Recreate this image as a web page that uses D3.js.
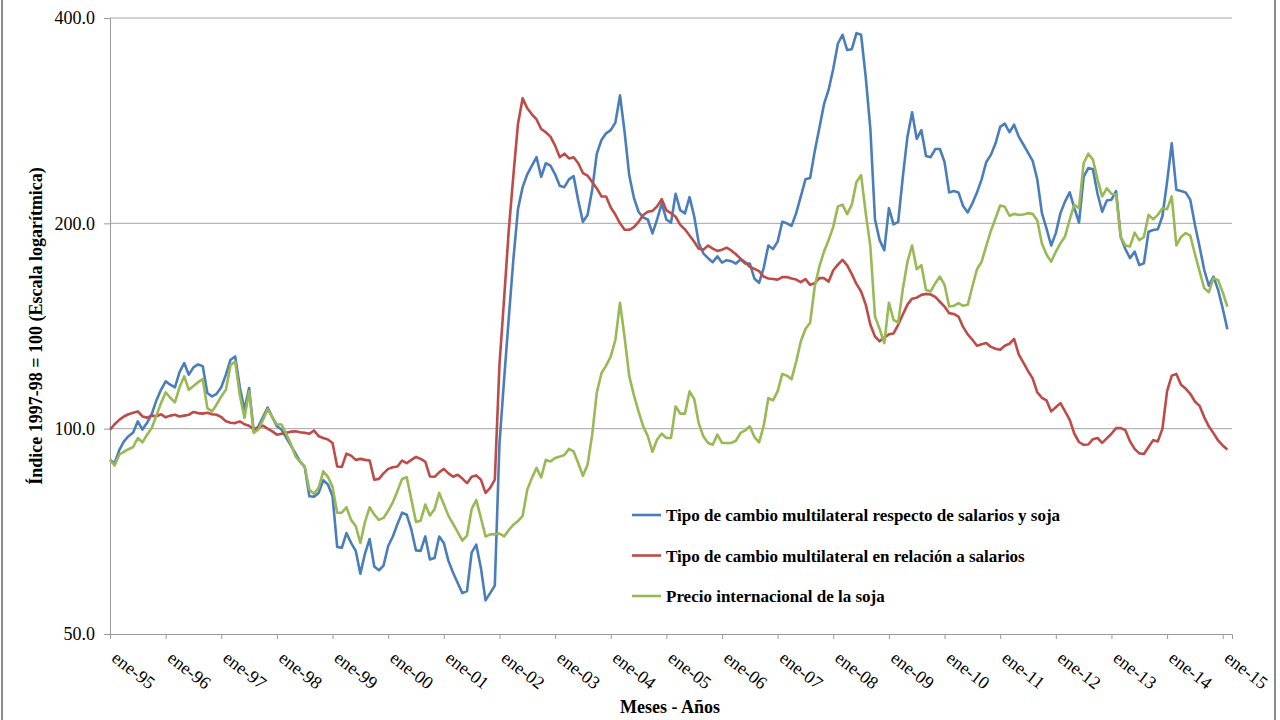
<!DOCTYPE html>
<html>
<head>
<meta charset="utf-8">
<script src="https://cdn.jsdelivr.net/npm/d3@7"></script>
<style>
  body { margin: 0; background: #fff; }
  svg { display: block; }
  text { font-family: "Liberation Serif", "Times New Roman", serif; fill: #000; }
</style>
</head>
<body>
<div id="chart"></div>
<script>
// monthly values, ene-95 .. feb-15 (index 1997-98 = 100)
const tcmSalariosSoja = [
  90, 89, 93, 95.8, 97.5, 98.7, 102.5, 99.7, 102, 105, 110, 114,
  117.3, 116, 115, 121, 124.8, 120, 123, 124.2, 123.5, 112.8, 111.5, 112.5,
  115, 120, 126.2, 127.6, 115, 106.6, 114.7, 99.1, 100.8, 104, 107.4, 104,
  100.8, 99.7, 97, 94.5, 92, 89.5, 87.9, 79.6, 79.5, 80.5, 84, 82.8,
  79.6, 67.1, 66.9, 70.3, 68, 66.2, 61.3, 65.6, 68.9, 62.8, 62, 63,
  67.3, 69.5, 72.5, 75.3, 74.8, 71.1, 66.3, 66.2, 69.5, 64.3, 64.6, 69.5,
  68, 64, 61.5, 59.4, 57.4, 57.8, 65.8, 67.6, 62.5, 56, 57.4, 58.9,
  95, 118, 145, 177, 210, 226, 236, 243, 250, 234, 245, 243,
  236, 227, 226, 232, 234.5, 216, 201, 205.7, 224, 253, 265, 271,
  274, 281, 308, 272, 235, 218, 208, 204, 202.6, 193.3, 202.6, 214,
  202.6, 200.4, 221, 209, 206.8, 218.5, 204.8, 187, 180.6, 177.8, 175.4, 178.9,
  175.2, 176.6, 176, 174.6, 177, 174.6, 174.6, 165.9, 163.6, 172.1, 185.6, 183.4,
  188, 201, 200, 198.3, 207, 219, 232, 233, 255, 276, 299, 314,
  337, 367, 378, 359, 360, 380, 378, 328, 275, 202.6, 189, 182.6,
  210.5, 199.3, 201, 234, 268, 291, 266, 274, 251, 250, 257, 257,
  246, 222, 223, 222, 212, 207.5, 214, 222, 232, 246, 252, 262,
  277, 280, 272, 279, 268, 261, 254, 247, 232, 207, 196.5, 185.6,
  193.5, 207, 215.4, 222, 210.5, 200.5, 234, 241, 240, 221, 208, 216,
  216.6, 223, 191, 183.4, 177.8, 181.8, 173.7, 174.8, 194.4, 195.5, 196, 205,
  230, 262, 224, 223, 222, 216.6, 199, 185, 171, 162, 167.1, 159.8,
  150, 139.9
];
const tcmSalarios = [
  99.7, 101.5, 103, 104.2, 105, 105.5, 106, 104.2, 103.8, 104.5, 104.3, 105,
  103.9, 104.5, 104.8, 104.2, 104.5, 104.8, 105.8, 105.4, 105.2, 105.5, 105, 104.8,
  104, 102.5, 102, 101.9, 102.5, 101.5, 101, 99.7, 100.4, 101, 100, 99.1,
  98, 98.3, 98.6, 99, 99.1, 98.8, 98.6, 98.3, 99.4, 97.5, 96.9, 96.4,
  95.3, 88, 87.9, 91.9, 91.3, 90, 90.3, 90, 89.8, 84.2, 84.4, 86,
  87.3, 87.8, 88, 89.8, 89, 90, 90.9, 90.3, 89.5, 85.1, 85, 86.3,
  87.3, 86, 85, 85.6, 84.5, 83.2, 85, 85.4, 84.2, 80.5, 81.9, 84.2,
  124, 155, 195, 235, 280, 305, 295, 289, 284, 275, 272, 268,
  260, 250, 253, 249, 250, 245, 237, 235, 230, 225, 219, 219,
  211, 206, 200, 195.7, 195.7, 197.5, 201, 205.7, 208, 208.6, 211.8, 217,
  209, 207, 204.5, 199, 196, 192, 188, 183.6, 183, 185.6, 183.6, 182.2,
  183, 184.2, 182.5, 180.2, 177.5, 175.4, 172.7, 171.5, 170.2, 167.1, 166, 165.7,
  165.4, 166.8, 166.8, 166, 165.4, 164, 165.7, 162.5, 163.4, 166.2, 166.2, 164.3,
  170.7, 174, 176.8, 173.5, 168.5, 163, 158.9, 152, 142, 136.5, 134.3, 136,
  137.5, 137.9, 142, 147, 152, 155.1, 155.6, 157.1, 157.6, 157.3, 156, 153.5,
  151, 147.7, 147.3, 146, 141, 137.5, 135, 132.3, 133, 133.5, 131.8, 131,
  130.5, 132.3, 133.2, 135.4, 128.5, 125, 121.5, 118.5, 113, 111, 110, 106,
  107.5, 109, 106, 103, 98.3, 95.6, 94.7, 94.8, 96.5, 96.9, 95.3, 96.8,
  98.3, 100.2, 100.2, 99.5, 95.8, 93.4, 92, 91.8, 94, 96.2, 95.8, 100,
  113.5, 119.6, 120.3, 116, 114.5, 112.5, 109.6, 108, 104, 100.8, 98.5, 96.1,
  94.5, 93.2
];
const precioSoja = [
  90, 88.3, 91.6, 92.5, 93.3, 94, 96.9, 95.5, 98, 100.2, 104.5, 109,
  113, 111, 109.3, 115, 119.3, 114, 115.5, 117, 118.2, 107.2, 106, 108.5,
  111.5, 114, 124, 125.4, 112, 103.7, 113.4, 98.6, 99.7, 103, 106.8, 104,
  101.4, 101.4, 98.3, 95, 91.1, 89.5, 88, 81.4, 80.3, 81.9, 86.6, 85,
  82.1, 75.3, 75.3, 76.7, 73.5, 72, 68, 73, 76.7, 74.8, 73.5, 74,
  75.8, 78, 81, 84.4, 84.9, 78.7, 73, 73.3, 77.4, 74.6, 76.2, 80.5,
  77.5, 74.5, 72.5, 70.5, 68.5, 69.7, 76.2, 78.6, 74, 69.5, 70, 70,
  70.2, 69.5, 71, 72.3, 73.2, 74.5, 81.4, 84.7, 87.6, 84.8, 90, 89.5,
  90.6, 91, 91.5, 93.4, 92.6, 89, 85.3, 88.5, 98, 113, 120.6, 123.7,
  127.6, 134.9, 153, 136, 119.3, 112, 106, 100.8, 97.5, 92.5, 96.4, 98.3,
  96.9, 96.9, 107.8, 105.2, 105.2, 113.4, 110.5, 101.7, 97.4, 95.3, 94.7, 98,
  95.3, 95.3, 95.3, 96, 98.6, 99.4, 100.8, 97.2, 95.5, 101, 110.9, 110,
  113.4, 120.3, 119.6, 118.2, 125.4, 134.3, 140, 143, 161.6, 172.9, 181.8, 189,
  197.8, 211.8, 213, 206.3, 213, 230, 235.3, 207, 185, 146, 140, 133.5,
  153, 144.4, 143, 160.2, 175.7, 185.6, 171.3, 173.7, 159.8, 158.9, 163.4, 167.1,
  162.5, 151, 151.4, 152.8, 151.4, 151.9, 161.6, 171.3, 175.7, 185.4, 195.1, 203.5,
  212.4, 211.5, 205.2, 206.5, 205.8, 206, 207, 206.5, 201.9, 186.9, 180, 175.7,
  181.8, 186.9, 191.5, 202.6, 213, 210.5, 245, 253, 248, 232, 219, 225,
  221, 220.5, 191, 185.6, 185, 193.8, 189, 191, 205.8, 202.8, 205.8, 210.5,
  209.8, 219, 185.6, 191, 193.5, 191.8, 180.3, 170.2, 160.7, 158.5, 166.2, 165.1,
  158.5, 151
];
const yearLabels = ["ene-95","ene-96","ene-97","ene-98","ene-99","ene-00","ene-01",
  "ene-02","ene-03","ene-04","ene-05","ene-06","ene-07","ene-08","ene-09","ene-10",
  "ene-11","ene-12","ene-13","ene-14","ene-15"];
const yTicks = [50, 100, 200, 400];
const seriesNames = [
  "Tipo de cambio multilateral respecto de salarios y soja",
  "Tipo de cambio multilateral en relación a salarios",
  "Precio internacional de la soja"
];
const seriesColors = ["#4a7ebb", "#be4b48", "#98b954"];

const width = 1280, height = 720;
const svg = d3.select("#chart").append("svg")
  .attr("width", width).attr("height", height);

svg.append("rect").attr("width", width).attr("height", height).attr("fill", "#fff");
// outer frame of the chart object
svg.append("line").attr("x1", 2).attr("x2", 2).attr("y1", 0).attr("y2", height)
  .attr("stroke", "#8c8c8c").attr("stroke-width", 2);
svg.append("line").attr("x1", 1275).attr("x2", 1275).attr("y1", 0).attr("y2", height)
  .attr("stroke", "#8c8c8c").attr("stroke-width", 2);

const x = d3.scaleLinear().domain([0, 242]).range([110, 1232]);
const y = d3.scaleLog().domain([50, 400]).range([634, 18]);

// gridlines
svg.append("g").selectAll("line")
  .data(yTicks.slice(1)).enter().append("line")
  .attr("x1", 110).attr("x2", 1232)
  .attr("y1", d => y(d)).attr("y2", d => y(d))
  .attr("stroke", "#a6a6a6").attr("stroke-width", 1);

// y axis
const yAxis = svg.append("g").attr("transform", "translate(110,0)")
  .call(d3.axisLeft(y).tickValues(yTicks).tickFormat(d3.format(".1f")).tickSize(6).tickPadding(9));
yAxis.select(".domain").attr("stroke", "#9a9a9a");
yAxis.selectAll(".tick line").attr("stroke", "#9a9a9a");
yAxis.selectAll(".tick text").attr("font-size", 18)
  .style("font-family", '"Liberation Serif", serif');

// x axis
const monthTicks = d3.range(0, 241, 12);
const xAxis = svg.append("g").attr("transform", "translate(0,634)")
  .call(d3.axisBottom(x).tickValues(monthTicks)
    .tickFormat((d, i) => yearLabels[i]).tickSize(5));
xAxis.select(".domain").attr("stroke", "#9a9a9a");
xAxis.selectAll(".tick line").attr("stroke", "#9a9a9a");
xAxis.selectAll(".tick text")
  .attr("font-size", 18)
  .style("font-family", '"Liberation Serif", serif')
  .attr("text-anchor", "start")
  .attr("x", 0).attr("y", 0).attr("dy", 0)
  .attr("transform", "translate(0,26) rotate(38)");

// lines, in series order so the soy price sits on top
const line = d3.line().x((d, i) => x(i)).y(d => y(d));
const allSeries = [tcmSalariosSoja, tcmSalarios, precioSoja];
allSeries.forEach((s, k) => {
  svg.append("path").datum(s)
    .attr("d", line)
    .attr("fill", "none")
    .attr("stroke", seriesColors[k])
    .attr("stroke-width", 2.6)
    .attr("stroke-linejoin", "round");
});

// legend
const legend = svg.append("g");
seriesNames.forEach((name, k) => {
  const ly = 515 + k * 40.5;
  legend.append("line").attr("x1", 632).attr("x2", 661)
    .attr("y1", ly).attr("y2", ly)
    .attr("stroke", seriesColors[k]).attr("stroke-width", 2.6);
  legend.append("text").attr("x", 666).attr("y", ly + 6)
    .attr("font-size", 17).attr("font-weight", "bold").text(name);
});

// axis titles
svg.append("text")
  .attr("transform", "translate(42,326) rotate(-90)")
  .attr("text-anchor", "middle")
  .attr("font-size", 18).attr("font-weight", "bold")
  .text("Índice 1997-98 = 100 (Escala logarítmica)");
svg.append("text")
  .attr("x", 670).attr("y", 713)
  .attr("text-anchor", "middle")
  .attr("font-size", 18).attr("font-weight", "bold")
  .text("Meses - Años");
</script>
</body>
</html>
